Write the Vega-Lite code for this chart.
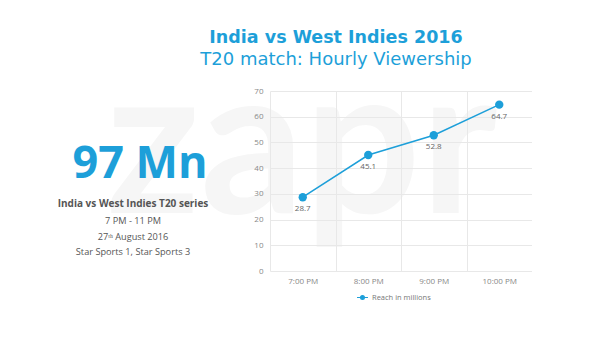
{
  "$schema": "https://vega.github.io/schema/vega-lite/v6.json",
  "background": "white",
  "padding": {"left": 0, "top": 28, "right": 0, "bottom": 0},
  "title": {
    "text": "India vs West Indies 2016",
    "subtitle": "T20 match: Hourly Viewership",
    "anchor": "middle",
    "dx": 70,
    "font": "DejaVu Sans",
    "fontSize": 17.5,
    "fontWeight": "bold",
    "color": "#1d9fd9",
    "subtitleFont": "DejaVu Sans",
    "subtitleFontSize": 18,
    "subtitleColor": "#1d9fd9",
    "subtitlePadding": 5,
    "offset": -20
  },
  "bounds": "flush",
  "spacing": 30,
  "resolve": {"scale": {"color": "independent"}, "legend": {"color": "independent"}},
  "hconcat": [
    {
      "width": 240,
      "height": 180,
      "layer": [
        {
          "data": {"values": [{"label": "zapr"}]},
          "mark": {"type": "text", "font": "Lato", "fontWeight": "bold", "fontSize": 205, "color": "#f6f6f6", "align": "left", "baseline": "alphabetic"},
          "encoding": {
            "x": {"datum": 106, "type": "quantitative", "scale": {"domain": [0, 240]}, "axis": null},
            "y": {"datum": 122, "type": "quantitative", "scale": {"domain": [0, 180], "reverse": true}, "axis": null},
            "text": {"field": "label"}
          }
        },
        {
          "data": {"values": [{"label": "97 Mn"}]},
          "mark": {"type": "text", "font": "Open Sans", "fontWeight": "bold", "fontSize": 45, "color": "#1d9fd9", "align": "center", "baseline": "alphabetic"},
          "encoding": {
            "x": {"datum": 140, "type": "quantitative", "axis": null},
            "y": {"datum": 87, "type": "quantitative", "axis": null},
            "text": {"field": "label"}
          }
        },
        {
          "data": {"values": [{"label": "India vs West Indies T20 series"}]},
          "mark": {"type": "text", "font": "Open Sans", "fontWeight": "bold", "fontSize": 10, "color": "#555555", "align": "center", "baseline": "alphabetic"},
          "encoding": {
            "x": {"datum": 133, "type": "quantitative", "axis": null},
            "y": {"datum": 116, "type": "quantitative", "axis": null},
            "text": {"field": "label"}
          }
        },
        {
          "data": {"values": [{"label": "7 PM - 11 PM"}]},
          "mark": {"type": "text", "font": "Open Sans", "fontSize": 9.2, "color": "#555555", "align": "center", "baseline": "alphabetic"},
          "encoding": {
            "x": {"datum": 133, "type": "quantitative", "axis": null},
            "y": {"datum": 133, "type": "quantitative", "axis": null},
            "text": {"field": "label"}
          }
        },
        {
          "data": {"values": [{"label": "27ᵗʰ August 2016"}]},
          "mark": {"type": "text", "font": "Open Sans", "fontSize": 9.2, "color": "#555555", "align": "center", "baseline": "alphabetic"},
          "encoding": {
            "x": {"datum": 133, "type": "quantitative", "axis": null},
            "y": {"datum": 149, "type": "quantitative", "axis": null},
            "text": {"field": "label"}
          }
        },
        {
          "data": {"values": [{"label": "Star Sports 1, Star Sports 3"}]},
          "mark": {"type": "text", "font": "Open Sans", "fontSize": 9.2, "color": "#555555", "align": "center", "baseline": "alphabetic"},
          "encoding": {
            "x": {"datum": 133, "type": "quantitative", "axis": null},
            "y": {"datum": 164, "type": "quantitative", "axis": null},
            "text": {"field": "label"}
          }
        }
      ]
    },
    {
      "width": 262,
      "height": 180,
      "data": {"values": [
        {"time": "7:00 PM", "reach": 28.7, "series": "Reach in millions"},
        {"time": "8:00 PM", "reach": 45.1, "series": "Reach in millions"},
        {"time": "9:00 PM", "reach": 52.8, "series": "Reach in millions"},
        {"time": "10:00 PM", "reach": 64.7, "series": "Reach in millions"}
      ]},
      "encoding": {
        "x": {
          "field": "time", "type": "nominal", "sort": null, "title": null,
          "scale": {"type": "band", "paddingInner": 0, "paddingOuter": 0},
          "axis": {"tickBand": "extent", "labelAngle": 0, "ticks": false, "domain": false, "grid": true, "gridColor": "#e8e8e8", "labelPadding": 6}
        },
        "y": {
          "field": "reach", "type": "quantitative", "title": null,
          "scale": {"domain": [0, 70]},
          "axis": {"values": [0, 10, 20, 30, 40, 50, 60, 70], "ticks": false, "domain": false, "gridColor": "#e8e8e8", "labelPadding": 7}
        }
      },
      "layer": [
        {
          "mark": {"type": "line", "strokeWidth": 1.5, "point": {"filled": true, "size": 70, "opacity": 1}},
          "encoding": {
            "color": {
              "field": "series", "type": "nominal", "title": null,
              "scale": {"range": ["#1d9fd9"]},
              "legend": {
                "orient": "none",
                "legendX": 86,
                "legendY": 200,
                "symbolType": "M-1,0H1M-0.35,0A0.35,0.35 0 1,1 0.35,0A0.35,0.35 0 1,1 -0.35,0Z",
                "symbolSize": 120,
                "symbolStrokeWidth": 1.2,
                "symbolFillColor": "#1d9fd9",
                "labelFontSize": 7.5,
                "labelOffset": 3,
                "labelColor": "#777777",
                "labelFont": "Open Sans",
                "padding": 0
              }
            }
          }
        },
        {
          "mark": {"type": "text", "dy": 12, "fontSize": 8, "font": "Open Sans", "color": "#666666"},
          "encoding": {"text": {"field": "reach", "type": "quantitative", "format": ".1f"}}
        }
      ]
    }
  ],
  "config": {
    "view": {"stroke": null},
    "axis": {"labelFont": "Open Sans", "labelFontSize": 8, "labelColor": "#888888"}
  }
}
